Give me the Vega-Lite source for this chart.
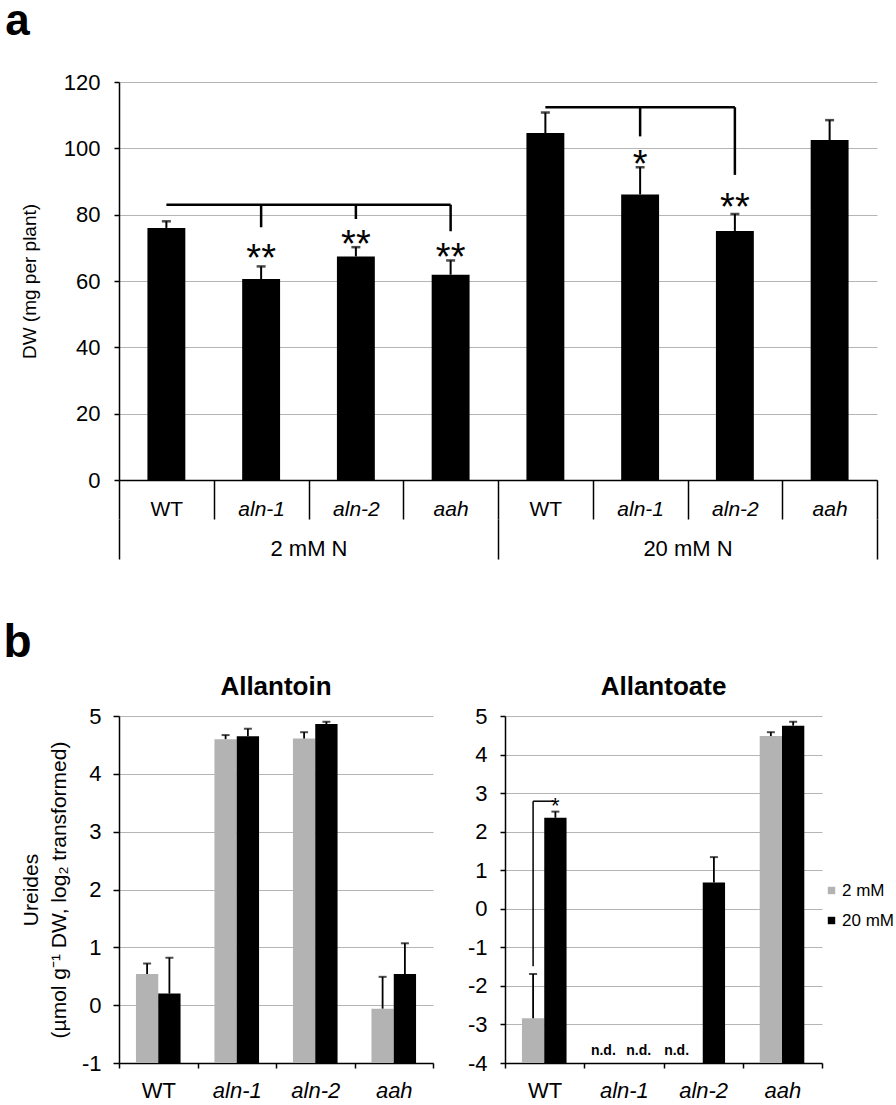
{
  "$schema": "https://vega.github.io/schema/vega-lite/v6.json",
  "padding": {"left": 3, "top": 0, "right": 0, "bottom": 0},
  "config": {
    "font": "Liberation Sans",
    "view": {"stroke": null},
    "axis": {"labelColor": "#000", "titleColor": "#000", "domainColor": "#000", "tickColor": "#000", "gridColor": "#b5b5b5", "labelFont": "Liberation Sans", "titleFont": "Liberation Sans", "titleFontWeight": "normal"},
    "title": {"font": "Liberation Sans", "color": "#000"}
  },
  "datasets": {
    "dw": [
      {"id": "WT|2", "gene": "WT", "group": "2 mM N", "dw": 76.0, "hi": 78.0},
      {"id": "aln-1|2", "gene": "aln-1", "group": "2 mM N", "dw": 60.6, "hi": 64.4},
      {"id": "aln-2|2", "gene": "aln-2", "group": "2 mM N", "dw": 67.4, "hi": 70.2},
      {"id": "aah|2", "gene": "aah", "group": "2 mM N", "dw": 61.9, "hi": 66.2},
      {"id": "WT|20", "gene": "WT", "group": "20 mM N", "dw": 104.6, "hi": 110.8},
      {"id": "aln-1|20", "gene": "aln-1", "group": "20 mM N", "dw": 86.1, "hi": 94.3},
      {"id": "aln-2|20", "gene": "aln-2", "group": "20 mM N", "dw": 75.1, "hi": 80.2},
      {"id": "aah|20", "gene": "aah", "group": "20 mM N", "dw": 102.5, "hi": 108.5}
    ],
    "spans": [
      {"from": "WT|2", "to": "aah|2", "y": 83.0},
      {"from": "WT|20", "to": "aln-2|20", "y": 112.4}
    ],
    "drops": [
      {"id": "aln-1|2", "top": 83.0, "end": 76.2},
      {"id": "aln-2|2", "top": 83.0, "end": 78.7},
      {"id": "aah|2", "top": 83.0, "end": 75.0},
      {"id": "aln-1|20", "top": 112.4, "end": 103.6},
      {"id": "aln-2|20", "top": 112.4, "end": 92.0}
    ],
    "stars": [
      {"id": "aln-1|2", "y": 62.9, "s": "**"},
      {"id": "aln-2|2", "y": 67.1, "s": "**"},
      {"id": "aah|2", "y": 63.4, "s": "**"},
      {"id": "aln-1|20", "y": 91.5, "s": "*"},
      {"id": "aln-2|20", "y": 78.3, "s": "**"}
    ],
    "ure": [
      {"met": "Allantoin", "gene": "WT", "n": "2 mM", "v": 0.54, "hi": 0.72},
      {"met": "Allantoin", "gene": "WT", "n": "20 mM", "v": 0.20, "hi": 0.82},
      {"met": "Allantoin", "gene": "aln-1", "n": "2 mM", "v": 4.60, "hi": 4.67},
      {"met": "Allantoin", "gene": "aln-1", "n": "20 mM", "v": 4.65, "hi": 4.78},
      {"met": "Allantoin", "gene": "aln-2", "n": "2 mM", "v": 4.61, "hi": 4.72},
      {"met": "Allantoin", "gene": "aln-2", "n": "20 mM", "v": 4.86, "hi": 4.90},
      {"met": "Allantoin", "gene": "aah", "n": "2 mM", "v": -0.06, "hi": 0.49},
      {"met": "Allantoin", "gene": "aah", "n": "20 mM", "v": 0.54, "hi": 1.07},
      {"met": "Allantoate", "gene": "WT", "n": "2 mM", "v": -2.84, "hi": -1.69},
      {"met": "Allantoate", "gene": "WT", "n": "20 mM", "v": 2.36, "hi": 2.52},
      {"met": "Allantoate", "gene": "aln-2", "n": "20 mM", "v": 0.68, "hi": 1.34},
      {"met": "Allantoate", "gene": "aah", "n": "2 mM", "v": 4.48, "hi": 4.58},
      {"met": "Allantoate", "gene": "aah", "n": "20 mM", "v": 4.75, "hi": 4.85}
    ],
    "nd": [
      {"gene": "aln-1", "n": "2 mM", "t": "n.d.", "v": -4},
      {"gene": "aln-1", "n": "20 mM", "t": "n.d.", "v": -4},
      {"gene": "aln-2", "n": "2 mM", "t": "n.d.", "v": -4}
    ],
    "brk": [
      {"gene": "WT", "n": "2 mM", "v": -1.49, "top": 2.79}
    ],
    "star2": [
      {"gene": "WT", "n": "20 mM", "v": 2.48, "s": "*"}
    ]
  },
  "vconcat": [
    {
      "title": {"text": "a", "anchor": "start", "fontSize": 44, "fontWeight": "bold", "dx": -15, "offset": 27},
      "width": 758,
      "height": 398,
      "layer": [
        {
          "encoding": {
            "x": {
              "field": "id", "type": "nominal",
              "scale": {"domain": ["WT|2", "aln-1|2", "aln-2|2", "aah|2", "WT|20", "aln-1|20", "aln-2|20", "aah|20"], "paddingInner": 0, "paddingOuter": 0},
              "axis": {
                "title": null, "labelAngle": 0, "tickBand": "extent", "tickSize": 39, "tickWidth": 1.5, "domainWidth": 1.5,
                "labelPadding": -21, "labelFontSize": 21,
                "labelExpr": "split(datum.label, '|')[0]",
                "labelFontStyle": {"condition": {"test": "datum.value === 'WT|2' || datum.value === 'WT|20'", "value": "normal"}, "value": "italic"}
              }
            }
          },
          "layer": [
            {
              "data": {"name": "dw"},
              "mark": {"type": "bar", "color": "#000", "width": {"band": 0.4}},
              "encoding": {
                "y": {
                  "field": "dw", "type": "quantitative",
                  "scale": {"domain": [0, 120]},
                  "axis": {"values": [0, 20, 40, 60, 80, 100, 120], "title": "DW (mg per plant)", "titleFontSize": 19, "titlePadding": 24, "labelFontSize": 22, "labelPadding": 14, "tickSize": 5, "tickWidth": 1.5, "domainWidth": 1.5, "grid": true, "gridWidth": 1}
                }
              }
            },
            {
              "data": {"name": "dw"},
              "mark": {"type": "rule", "color": "#000", "strokeWidth": 2},
              "encoding": {"y": {"field": "dw", "type": "quantitative"}, "y2": {"field": "hi"}}
            },
            {
              "data": {"name": "dw"},
              "mark": {"type": "tick", "color": "#000", "size": 9, "thickness": 2.5},
              "encoding": {"y": {"field": "hi", "type": "quantitative"}}
            },
            {
              "data": {"name": "spans"},
              "mark": {"type": "rule", "color": "#000", "strokeWidth": 2.5},
              "encoding": {"x": {"field": "from", "type": "nominal"}, "x2": {"field": "to"}, "y": {"field": "y", "type": "quantitative"}}
            },
            {
              "data": {"name": "drops"},
              "mark": {"type": "rule", "color": "#000", "strokeWidth": 2.5},
              "encoding": {"x": {"field": "id", "type": "nominal"}, "y": {"field": "top", "type": "quantitative"}, "y2": {"field": "end"}}
            },
            {
              "data": {"name": "stars"},
              "mark": {"type": "text", "color": "#000", "fontSize": 38, "baseline": "alphabetic", "align": "center"},
              "encoding": {"x": {"field": "id", "type": "nominal"}, "y": {"field": "y", "type": "quantitative"}, "text": {"field": "s"}}
            }
          ]
        },
        {
          "data": {"name": "dw"},
          "mark": {"type": "text", "opacity": 0},
          "encoding": {
            "x": {
              "field": "group", "type": "nominal",
              "scale": {"domain": ["2 mM N", "20 mM N"], "paddingInner": 0, "paddingOuter": 0},
              "axis": {"orient": "bottom", "offset": 39, "title": null, "labelAngle": 0, "domain": false, "tickBand": "extent", "tickSize": 40, "tickWidth": 1.5, "labelPadding": -21, "labelFontSize": 22}
            },
            "text": {"value": ""}
          }
        }
      ],
      "resolve": {"scale": {"x": "independent"}}
    },
    {
      "title": {"text": "b", "anchor": "start", "fontSize": 46, "fontWeight": "bold", "dx": -17, "offset": 7},
      "spacing": 33,
      "resolve": {"scale": {"color": "independent"}},
      "hconcat": [
        {
          "title": {"text": "Allantoin", "fontSize": 26, "fontWeight": "bold", "offset": 5},
          "width": 314,
          "height": 347,
          "data": {"name": "ure"},
          "transform": [{"filter": "datum.met === 'Allantoin'"}],
          "encoding": {
            "x": {
              "field": "gene", "type": "nominal",
              "scale": {"domain": ["WT", "aln-1", "aln-2", "aah"], "paddingInner": 0, "paddingOuter": 0},
              "axis": {"title": null, "labelAngle": 0, "tickBand": "extent", "tickSize": 5, "tickWidth": 1.5, "domainWidth": 1.5, "labelPadding": 12, "labelFontSize": 22,
                "labelFontStyle": {"condition": {"test": "datum.value === 'WT'", "value": "normal"}, "value": "italic"}}
            },
            "xOffset": {"field": "n", "type": "nominal", "scale": {"domain": ["2 mM", "20 mM"], "paddingInner": 0, "paddingOuter": 0.76}}
          },
          "layer": [
            {
              "mark": {"type": "bar"},
              "encoding": {
                "y": {
                  "field": "v", "type": "quantitative",
                  "scale": {"domain": [-1, 5]},
                  "axis": {"values": [-1, 0, 1, 2, 3, 4, 5], "labelExpr": "'' + datum.value", "title": ["Ureides", "(µmol g⁻¹ DW, log₂ transformed)"], "titleFontSize": 21, "titleLineHeight": 28, "titlePadding": 12, "labelFontSize": 22, "labelPadding": 12, "tickSize": 6, "tickWidth": 1.5, "domainWidth": 1.5, "grid": true}
                },
                "y2": {"datum": -1},
                "color": {"field": "n", "type": "nominal", "scale": {"domain": ["2 mM", "20 mM"], "range": ["#b3b3b3", "#000000"]}, "legend": null}
              }
            },
            {
              "mark": {"type": "rule", "color": "#000", "strokeWidth": 1.8},
              "encoding": {"y": {"field": "v", "type": "quantitative"}, "y2": {"field": "hi"}}
            },
            {
              "mark": {"type": "tick", "color": "#000", "size": 8, "thickness": 2},
              "encoding": {"y": {"field": "hi", "type": "quantitative"}}
            }
          ]
        },
        {
          "title": {"text": "Allantoate", "fontSize": 26, "fontWeight": "bold", "offset": 5},
          "width": 317,
          "height": 347,
          "encoding": {
            "x": {
              "field": "gene", "type": "nominal",
              "scale": {"domain": ["WT", "aln-1", "aln-2", "aah"], "paddingInner": 0, "paddingOuter": 0},
              "axis": {"title": null, "labelAngle": 0, "tickBand": "extent", "tickSize": 5, "tickWidth": 1.5, "domainWidth": 1.5, "labelPadding": 12, "labelFontSize": 22,
                "labelFontStyle": {"condition": {"test": "datum.value === 'WT'", "value": "normal"}, "value": "italic"}}
            },
            "xOffset": {"field": "n", "type": "nominal", "scale": {"domain": ["2 mM", "20 mM"], "paddingInner": 0, "paddingOuter": 0.76}},
            "y": {
              "field": "v", "type": "quantitative",
              "scale": {"domain": [-4, 5]},
              "axis": {"values": [-4, -3, -2, -1, 0, 1, 2, 3, 4, 5], "labelExpr": "'' + datum.value", "title": null, "labelFontSize": 22, "labelPadding": 13, "tickSize": 5, "tickWidth": 1.5, "domainWidth": 1.5, "grid": true}
            }
          },
          "layer": [
            {
              "data": {"name": "ure"},
              "transform": [{"filter": "datum.met === 'Allantoate'"}],
              "mark": {"type": "bar"},
              "encoding": {
                "y2": {"datum": -4},
                "color": {
                  "field": "n", "type": "nominal",
                  "scale": {"domain": ["2 mM", "20 mM"], "range": ["#b3b3b3", "#000000"]},
                  "legend": {"orient": "none", "legendX": 318, "legendY": 166, "title": null, "symbolType": "square", "symbolSize": 55, "symbolStrokeWidth": 0, "labelFontSize": 17, "labelOffset": 2, "rowPadding": 12, "labelColor": "#000"}
                }
              }
            },
            {
              "data": {"name": "ure"},
              "transform": [{"filter": "datum.met === 'Allantoate'"}],
              "mark": {"type": "rule", "color": "#000", "strokeWidth": 1.8},
              "encoding": {"y2": {"field": "hi"}}
            },
            {
              "data": {"name": "ure"},
              "transform": [{"filter": "datum.met === 'Allantoate'"}],
              "mark": {"type": "tick", "color": "#000", "size": 8, "thickness": 2},
              "encoding": {
                "y": {
                  "field": "hi", "type": "quantitative",
                  "scale": {"domain": [-4, 5]},
                  "axis": {"values": [-4, -3, -2, -1, 0, 1, 2, 3, 4, 5], "labelExpr": "'' + datum.value", "title": null, "labelFontSize": 22, "labelPadding": 13, "tickSize": 5, "tickWidth": 1.5, "domainWidth": 1.5, "grid": true}
                }
              }
            },
            {
              "data": {"name": "nd"},
              "transform": [{"filter": "datum.gene === 'aln-1' && datum.n === '2 mM'"}],
              "mark": {"type": "text", "fontSize": 14, "fontWeight": "bold", "baseline": "bottom", "dy": -5, "dx": -9, "color": "#000"},
              "encoding": {"text": {"field": "t"}}
            },
            {
              "data": {"name": "nd"},
              "transform": [{"filter": "datum.gene === 'aln-1' && datum.n === '20 mM'"}],
              "mark": {"type": "text", "fontSize": 14, "fontWeight": "bold", "baseline": "bottom", "dy": -5, "dx": 4, "color": "#000"},
              "encoding": {"text": {"field": "t"}}
            },
            {
              "data": {"name": "nd"},
              "transform": [{"filter": "datum.gene === 'aln-2' && datum.n === '2 mM'"}],
              "mark": {"type": "text", "fontSize": 14, "fontWeight": "bold", "baseline": "bottom", "dy": -5, "dx": -15, "color": "#000"},
              "encoding": {"text": {"field": "t"}}
            },
            {
              "data": {"name": "brk"},
              "mark": {"type": "rule", "color": "#000", "strokeWidth": 1.5},
              "encoding": {"y2": {"field": "top"}}
            },
            {
              "data": {"name": "brk"},
              "mark": {"type": "rule", "color": "#000", "strokeWidth": 1.5, "x2Offset": 10},
              "encoding": {
                "x2": {"field": "gene"},
                "y": {
                  "field": "top", "type": "quantitative",
                  "scale": {"domain": [-4, 5]},
                  "axis": {"values": [-4, -3, -2, -1, 0, 1, 2, 3, 4, 5], "labelExpr": "'' + datum.value", "title": null, "labelFontSize": 22, "labelPadding": 13, "tickSize": 5, "tickWidth": 1.5, "domainWidth": 1.5, "grid": true}
                }
              }
            },
            {
              "data": {"name": "star2"},
              "mark": {"type": "text", "fontSize": 22, "baseline": "alphabetic", "color": "#000"},
              "encoding": {"text": {"field": "s"}}
            }
          ]
        }
      ]
    }
  ],
  "spacing": 60
}
